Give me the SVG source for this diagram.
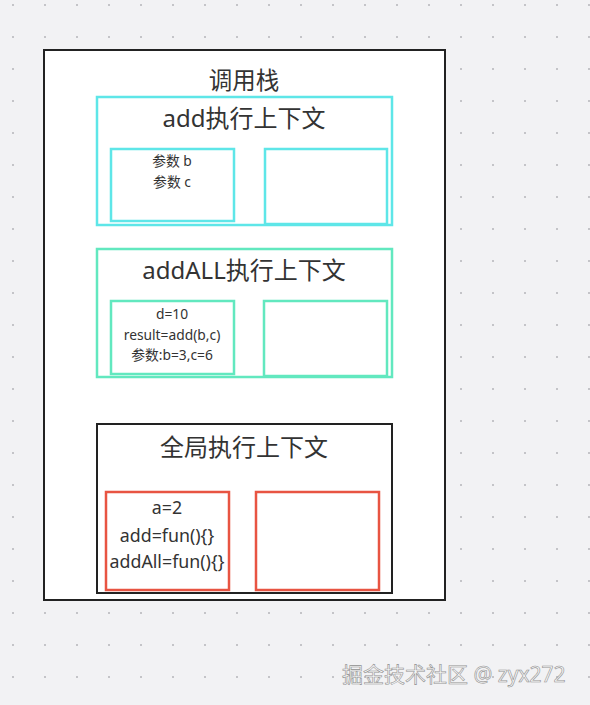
<svg xmlns="http://www.w3.org/2000/svg" width="590" height="705" viewBox="0 0 590 705">
<defs>
<pattern id="dots" x="12" y="4" width="32" height="32" patternUnits="userSpaceOnUse">
<rect x="0" y="0" width="2" height="2" fill="#c4c4c8"/>
</pattern>
<style>
text{font-family:"Noto Sans","Noto Sans CJK SC",sans-serif;fill:#333;text-anchor:middle}
.t1{font-size:23.5px}
.t2{font-size:24px}
.s{font-size:13.8px}
.m{font-size:17.8px}
.cyan{fill:#fff;stroke:#5ee6e8;stroke-width:2.5}
.teal{fill:#fff;stroke:#62e8bf;stroke-width:2.5}
.red{fill:#fff;stroke:#e85442;stroke-width:2.5}
.dark{fill:#fff;stroke:#222;stroke-width:2}
.wm{font-size:21px;fill:#f8f8f8;stroke:#909090;stroke-width:0.6;text-anchor:start}
</style>
</defs>
<rect width="590" height="705" fill="#f2f2f4"/>
<rect width="590" height="705" fill="url(#dots)"/>
<g id="stack">
<rect class="dark" x="44" y="50" width="401" height="550"/>
<text class="t1" x="244" y="89">调用栈</text>
</g>
<g id="add-ctx">
<rect class="cyan" x="97" y="97" width="295" height="128"/>
<text class="t2" x="244" y="127">add执行上下文</text>
</g>
<g id="add-vars">
<rect class="cyan" x="111" y="149" width="123" height="72"/>
<text class="s" x="172" y="166">参数 b</text>
<text class="s" x="172" y="187">参数 c</text>
</g>
<g id="add-right">
<rect class="cyan" x="265" y="149" width="122" height="75"/>
</g>
<g id="addall-ctx">
<rect class="teal" x="97" y="249" width="295" height="128"/>
<text class="t2" x="244" y="279">addALL执行上下文</text>
</g>
<g id="addall-vars">
<rect class="teal" x="111" y="301" width="123" height="73"/>
<text class="s" x="172" y="319">d=10</text>
<text class="s" x="172" y="340">result=add(b,c)</text>
<text class="s" x="172" y="360">参数:b=3,c=6</text>
</g>
<g id="addall-right">
<rect class="teal" x="264" y="301" width="123" height="75"/>
</g>
<g id="global-ctx">
<rect class="dark" x="97" y="424" width="295" height="169"/>
<text class="t2" x="244" y="456">全局执行上下文</text>
</g>
<g id="global-vars">
<rect class="red" x="106" y="492" width="123" height="98"/>
<text class="m" x="167" y="514">a=2</text>
<text class="m" x="167" y="542">add=fun(){}</text>
<text class="m" x="167" y="568">addAll=fun(){}</text>
</g>
<g id="global-right">
<rect class="red" x="256" y="492" width="123" height="98"/>
</g>
<g id="connectors"></g>
<text class="wm" x="342" y="682">掘金技术社区 @ zyx272</text>
</svg>
